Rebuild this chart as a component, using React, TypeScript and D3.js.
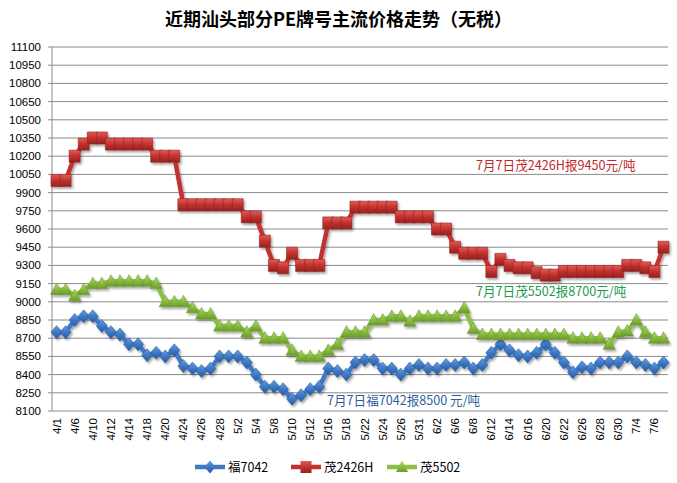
import * as d3 from "d3";

// category dates (every other one is shown on the axis)
const dates = [
  "4/1", "4/5", "4/6", "4/7", "4/10", "4/11", "4/12", "4/13", "4/14", "4/17",
  "4/18", "4/19", "4/20", "4/21", "4/24", "4/25", "4/26", "4/27", "4/28", "5/1",
  "5/2", "5/3", "5/4", "5/5", "5/8", "5/9", "5/10", "5/11", "5/12", "5/15",
  "5/16", "5/17", "5/18", "5/19", "5/22", "5/23", "5/24", "5/25", "5/26", "5/27",
  "5/31", "6/1", "6/2", "6/5", "6/6", "6/7", "6/8", "6/9", "6/12", "6/13",
  "6/14", "6/15", "6/16", "6/19", "6/20", "6/21", "6/22", "6/23", "6/26", "6/27",
  "6/28", "6/29", "6/30", "7/3", "7/4", "7/5", "7/6", "7/7",
];

// 福7042
const fu7042 = [
  8750, 8750, 8850, 8880, 8880, 8800, 8750, 8730, 8650, 8650,
  8560, 8580, 8550, 8600, 8470, 8450, 8430, 8450, 8550, 8550,
  8550, 8500, 8400, 8300, 8300, 8280, 8200, 8230, 8280, 8300,
  8450, 8430, 8400, 8500, 8520, 8520, 8450, 8450, 8400, 8450,
  8480, 8450, 8450, 8480, 8480, 8500, 8450, 8480, 8580, 8650,
  8600, 8560, 8550, 8580, 8650, 8580, 8500, 8420, 8460, 8450,
  8500, 8500, 8500, 8550, 8500, 8480, 8450, 8500,
];

// 茂2426H
const mao2426H = [
  10000, 10000, 10200, 10300, 10350, 10350, 10300, 10300, 10300, 10300,
  10300, 10200, 10200, 10200, 9800, 9800, 9800, 9800, 9800, 9800,
  9800, 9700, 9700, 9500, 9300, 9280, 9400, 9300, 9300, 9300,
  9650, 9650, 9650, 9780, 9780, 9780, 9780, 9780, 9700, 9700,
  9700, 9700, 9600, 9600, 9450, 9400, 9400, 9400, 9250, 9350,
  9300, 9280, 9280, 9240, 9220, 9220, 9250, 9250, 9250, 9250,
  9250, 9250, 9250, 9300, 9300, 9280, 9250, 9450,
];

// 茂5502
const mao5502 = [
  9100, 9100, 9050, 9100, 9150, 9150, 9170, 9170, 9170, 9170,
  9170, 9150, 9000, 9000, 9000, 8950, 8900, 8900, 8800, 8800,
  8800, 8750, 8800, 8700, 8700, 8700, 8600, 8550, 8550, 8550,
  8600, 8650, 8750, 8750, 8750, 8850, 8850, 8880, 8880, 8840,
  8880, 8880, 8880, 8880, 8880, 8950, 8780, 8730, 8730, 8730,
  8730, 8730, 8730, 8730, 8730, 8730, 8730, 8700, 8700, 8700,
  8700, 8650, 8750, 8760, 8850, 8750, 8700, 8700,
];

const yTicks = [
  8100, 8250, 8400, 8550, 8700, 8850, 9000, 9150, 9300, 9450, 9600,
  9750, 9900, 10050, 10200, 10350, 10500, 10650, 10800, 10950, 11100,
];

const title = "近期汕头部分PE牌号主流价格走势（无税）";
const notes = [
  { text: "7月7日茂2426H报9450元/吨", x: 476, y: 170, color: "#c0282a" },
  { text: "7月7日茂5502报8700元/吨", x: 476, y: 296, color: "#1e9a4e" },
  { text: "7月7日福7042报8500 元/吨", x: 327, y: 405, color: "#2f5f9a" },
];

const W = 677;
const H = 483;
const left = 52;
const right = 668;
const top = 47;
const bottom = 411;

const x = d3.scaleBand<string>().domain(dates).range([left, right]).padding(0);
const cx = (d: string) => (x(d) as number) + x.bandwidth() / 2;
const y = d3.scaleLinear().domain([8100, 11100]).range([bottom, top]);

type Marker = "diamond" | "square" | "triangle";

const series = [
  { name: "福7042", values: fu7042, color: "#3d79c6", light: "#6a9ee0", dark: "#2a5a9c", marker: "diamond" as Marker },
  { name: "茂2426H", values: mao2426H, color: "#c2312e", light: "#e05c58", dark: "#962220", marker: "square" as Marker },
  { name: "茂5502", values: mao5502, color: "#8cbf44", light: "#b0dc6c", dark: "#6c9a2c", marker: "triangle" as Marker },
];

const markerPath = (m: Marker) => {
  if (m === "diamond") return "M0,-6.5L5.5,0L0,6.5L-5.5,0Z";
  if (m === "square") return "M-5.5,-6H5.5V6H-5.5Z";
  return "M0,-6.5L6,5H-6Z";
};

const numFont = "'Liberation Sans', Arial, sans-serif";
const cjkFont = "'Noto Sans CJK SC', 'Noto Sans', sans-serif";

export default function App() {
  const line = d3
    .line<number>()
    .x((_, i) => cx(dates[i]))
    .y((d) => y(d));

  return (
    <div style={{ position: "absolute", left: 0, top: 0, width: W, height: H, background: "#fff" }}>
      <svg width={W} height={H} style={{ display: "block" }}>
        <defs>
          <filter id="shadow" x="-10%" y="-10%" width="120%" height="130%">
            <feDropShadow dx="1.5" dy="2" stdDeviation="1.2" floodColor="#000" floodOpacity="0.35" />
          </filter>
          {series.map((s, k) => (
            <linearGradient key={k} id={`grad${k}`} x1="0" y1="0" x2="0" y2="1">
              <stop offset="0" stopColor={s.light} />
              <stop offset="0.5" stopColor={s.color} />
              <stop offset="1" stopColor={s.dark} />
            </linearGradient>
          ))}
        </defs>

        <text x={W / 2} y={26} textAnchor="middle" fontFamily={cjkFont} fontWeight="bold" fontSize={18} fill="#000">
          {title}
        </text>

        {/* gridlines and y axis */}
        {yTicks.map((t) => (
          <g key={t}>
            <line x1={left - 4} x2={right} y1={y(t)} y2={y(t)} stroke="#8a8a8a" strokeWidth={1} />
            <text x={41} y={y(t) + 4} textAnchor="end" fontFamily={numFont} fontSize={11.5} fill="#000">
              {t}
            </text>
          </g>
        ))}
        <line x1={left} x2={left} y1={top} y2={bottom} stroke="#8a8a8a" strokeWidth={1} />

        {/* x labels */}
        {dates.map((d, i) =>
          i % 2 === 0 ? (
            <text
              key={d}
              transform={`translate(${cx(d) + 4},${bottom + 7}) rotate(-90)`}
              textAnchor="end"
              fontFamily={numFont}
              fontSize={11.5}
              fill="#000"
            >
              {d}
            </text>
          ) : null
        )}

        {/* series */}
        {series.map((s, k) => (
          <g key={s.name} filter="url(#shadow)">
            <path d={line(s.values) as string} fill="none" stroke={s.color} strokeWidth={4.5} strokeLinejoin="round" />
            {s.values.map((v, i) => (
              <path
                key={i}
                transform={`translate(${cx(dates[i])},${y(v)})`}
                d={markerPath(s.marker)}
                fill={`url(#grad${k})`}
                stroke={s.dark}
                strokeWidth={0.6}
              />
            ))}
          </g>
        ))}

        {/* notes */}
        {notes.map((n) => (
          <text key={n.text} x={n.x} y={n.y} fontFamily={cjkFont} fontSize={12.6} fill={n.color}>
            {n.text}
          </text>
        ))}

        {/* legend */}
        {series.map((s, k) => {
          const lx = 195 + k * 96;
          const ly = 467;
          return (
            <g key={s.name}>
              <line x1={lx} x2={lx + 30} y1={ly} y2={ly} stroke={s.color} strokeWidth={4.5} />
              <path transform={`translate(${lx + 15},${ly})`} d={markerPath(s.marker)} fill={`url(#grad${k})`} />
              <text x={lx + 33} y={ly + 4.5} fontFamily={cjkFont} fontSize={12.5} fill="#000">
                {s.name}
              </text>
            </g>
          );
        })}
      </svg>
    </div>
  );
}
